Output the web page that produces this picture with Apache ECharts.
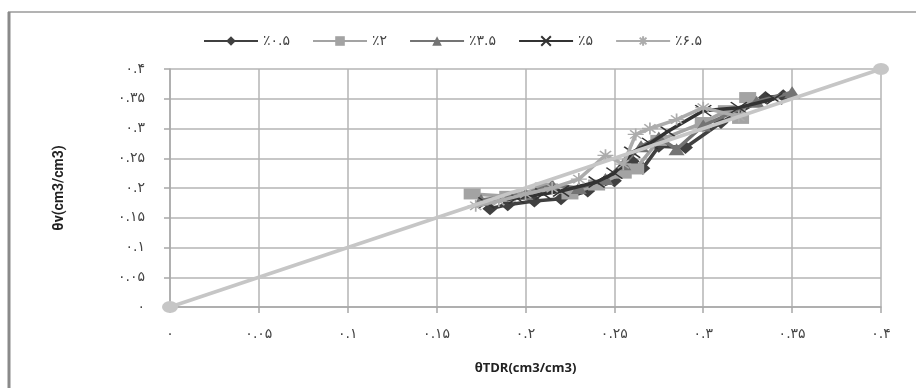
<!DOCTYPE html>
<html>
<head>
<meta charset="utf-8">
<script src="https://cdn.jsdelivr.net/npm/echarts@6/dist/echarts.min.js"></script>
<style>
  html, body { margin: 0; padding: 0; background: #fff; }
  #chart { width: 916px; height: 388px; }
</style>
</head>
<body>
<div id="chart"></div>
<script>
// tick labels (Persian digits, as in the source figure)
const tickLabels = ['۰', '۰.۰۵', '۰.۱', '۰.۱۵', '۰.۲', '۰.۲۵', '۰.۳', '۰.۳۵', '۰.۴']
const seriesNames = ['٪۰.۵', '٪۲', '٪۳.۵', '٪۵', '٪۶.۵']

// θTDR (x) vs θv (y)
const s05x = [0.180, 0.190, 0.205, 0.220, 0.235, 0.250, 0.260, 0.266, 0.275, 0.290, 0.310, 0.335, 0.345]
const s05y = [0.165, 0.172, 0.178, 0.182, 0.195, 0.212, 0.245, 0.233, 0.270, 0.268, 0.310, 0.352, 0.355]
const s2x = [0.170, 0.190, 0.210, 0.225, 0.240, 0.255, 0.262, 0.275, 0.300, 0.313, 0.321, 0.325]
const s2y = [0.190, 0.186, 0.200, 0.190, 0.205, 0.225, 0.232, 0.280, 0.310, 0.330, 0.317, 0.352]
const s35x = [0.175, 0.200, 0.215, 0.230, 0.245, 0.255, 0.265, 0.275, 0.285, 0.300, 0.330, 0.350]
const s35y = [0.180, 0.190, 0.205, 0.200, 0.215, 0.240, 0.270, 0.285, 0.265, 0.305, 0.345, 0.361]
const s5x = [0.178, 0.195, 0.210, 0.220, 0.240, 0.250, 0.260, 0.270, 0.280, 0.300, 0.320, 0.340]
const s5y = [0.175, 0.183, 0.190, 0.195, 0.210, 0.225, 0.260, 0.275, 0.295, 0.330, 0.335, 0.350]
const s65x = [0.172, 0.185, 0.200, 0.215, 0.230, 0.245, 0.255, 0.262, 0.270, 0.285, 0.300, 0.320]
const s65y = [0.170, 0.178, 0.190, 0.200, 0.215, 0.255, 0.240, 0.290, 0.300, 0.315, 0.335, 0.320]
// 1:1 reference line
const refX = [0, 0.4]
const refY = [0, 0.4]

const COLORS = ['#404040', '#a3a3a3', '#747474', '#333333', '#acacac']
const SYMBOLS = [
  'diamond',
  'rect',
  'triangle',
  'path://M0,0 L10,10 M10,0 L0,10',
  'path://M0,5 L10,5 M5,0 L5,10 M1.5,1.5 L8.5,8.5 M8.5,1.5 L1.5,8.5'
]
const SIZES = [[15, 13], [17, 11], [16, 12], [16, 11], [16, 12]]

function pairs(xs, ys) {
  return xs.map((x, i) => [x, ys[i]])
}

const raw = [[s05x, s05y], [s2x, s2y], [s35x, s35y], [s5x, s5y], [s65x, s65y]]

const dataSeries = raw.map(([xs, ys], i) => {
  const stroked = i >= 3
  return {
    name: seriesNames[i],
    type: 'line',
    data: pairs(xs, ys),
    symbol: SYMBOLS[i],
    symbolSize: SIZES[i],
    showAllSymbol: true,
    lineStyle: { color: COLORS[i], width: 3.5 },
    itemStyle: stroked
      ? { color: COLORS[i], borderColor: COLORS[i], borderWidth: 1.5 }
      : { color: COLORS[i] },
    z: 2 + i
  }
})

const refSeries = {
  name: '1:1',
  type: 'line',
  data: pairs(refX, refY),
  symbol: 'circle',
  symbolSize: [16, 12],
  lineStyle: { color: '#c6c6c6', width: 3.5 },
  itemStyle: { color: '#c6c6c6' },
  z: 10
}

const axisCommon = {
  type: 'value',
  min: 0,
  max: 0.4,
  interval: 0.05,
  axisLine: { show: true, lineStyle: { color: '#a8a8a8', width: 1.5 } },
  axisTick: { show: true, inside: false, length: 6, lineStyle: { color: '#a8a8a8', width: 1.5 } },
  splitLine: { show: true, lineStyle: { color: '#b4b4b4', width: 1.5 } },
  axisLabel: {
    color: '#444',
    fontSize: 14,
    fontFamily: 'DejaVu Sans',
    formatter: v => tickLabels[Math.round(v / 0.05)]
  }
}

const chart = echarts.init(document.getElementById('chart'))
chart.setOption({
  animation: false,
  backgroundColor: '#fff',
  graphic: [
    { type: 'line', shape: { x1: 8, y1: 12, x2: 916, y2: 12 }, style: { stroke: '#9a9a9a', lineWidth: 1.5 } },
    { type: 'line', shape: { x1: 9, y1: 12, x2: 9, y2: 388 }, style: { stroke: '#8a8a8a', lineWidth: 3 } }
  ],
  legend: {
    data: seriesNames,
    top: 29,
    left: 198,
    itemWidth: 54,
    itemHeight: 12,
    itemGap: 22,
    textStyle: { color: '#444', fontSize: 14, fontFamily: 'DejaVu Sans' }
  },
  grid: { left: 170, right: 35, top: 69, bottom: 81 },
  xAxis: {
    ...axisCommon,
    axisLabel: { ...axisCommon.axisLabel, margin: 20 },
    name: 'θTDR(cm3/cm3)',
    nameLocation: 'middle',
    nameGap: 55,
    nameTextStyle: { color: '#222', fontSize: 13, fontWeight: 'bold', fontFamily: 'Open Sans' }
  },
  yAxis: {
    ...axisCommon,
    axisLabel: { ...axisCommon.axisLabel, margin: 25 },
    name: 'θv(cm3/cm3)',
    nameLocation: 'middle',
    nameGap: 104,
    nameTextStyle: { color: '#222', fontSize: 14, fontWeight: 'bold', fontFamily: 'Roboto' }
  },
  series: [...dataSeries, refSeries]
})
</script>
</body>
</html>
